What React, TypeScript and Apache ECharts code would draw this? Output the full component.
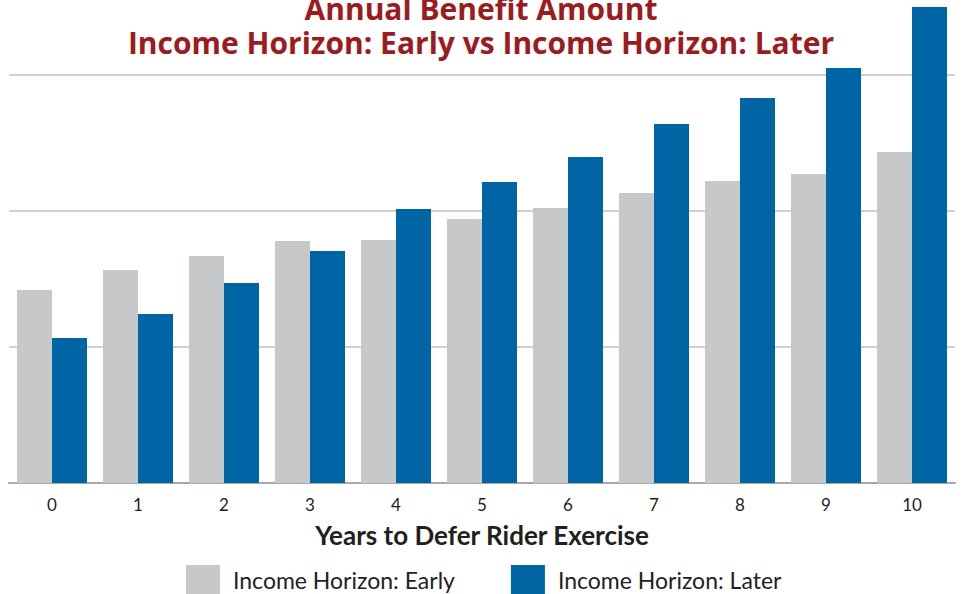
import React, { useEffect, useRef } from "react";
import * as echarts from "echarts";

const categories = ["0", "1", "2", "3", "4", "5", "6", "7", "8", "9", "10"];
const earlyValues = [1420, 1566, 1669, 1779, 1787, 1941, 2022, 2132, 2221, 2272, 2434];
const laterValues = [1066, 1243, 1471, 1706, 2015, 2213, 2397, 2640, 2831, 3051, 3500];
const seriesNames = ["Income Horizon: Early", "Income Horizon: Later"];
const titleText = "Annual Benefit Amount\nIncome Horizon: Early vs Income Horizon: Later";
const xAxisName = "Years to Defer Rider Exercise";

export default function App() {
  const ref = useRef<HTMLDivElement>(null);
  useEffect(() => {
    if (!ref.current) return;
    const chart = echarts.init(ref.current, null, { renderer: "svg" });
    chart.setOption({
      animation: false,
      title: {
        text: titleText,
        left: "center",
        top: -14,
        textStyle: {
          fontFamily: "Open Sans",
          fontWeight: "bold",
          fontSize: 30,
          lineHeight: 34,
          color: "#9b1c20",
        },
      },
      grid: { left: 9, right: 7, top: 7, bottom: 111, containLabel: false },
      legend: {
        left: 186,
        top: 565,
        padding: 0,
        itemWidth: 34,
        itemHeight: 29,
        itemGap: 56,
        icon: "rect",
        textStyle: {
          fontFamily: "Lato",
          fontSize: 23,
          lineHeight: 24,
          color: "#231f20",
          padding: [0, 0, 0, 8],
        },
        data: seriesNames,
      },
      xAxis: {
        type: "category",
        data: categories,
        axisLine: { lineStyle: { color: "#a7a9ac", width: 2 } },
        axisTick: { show: false },
        axisLabel: { fontFamily: "Lato", fontSize: 17, color: "#231f20", margin: 13 },
        name: xAxisName,
        nameLocation: "middle",
        nameGap: 39,
        nameTextStyle: { fontFamily: "Lato", fontWeight: "bold", fontSize: 26, color: "#231f20" },
      },
      yAxis: {
        type: "value",
        min: 0,
        max: 3500,
        interval: 1000,
        axisLabel: { show: false },
        axisLine: { show: false },
        axisTick: { show: false },
        splitLine: { show: true, showMaxLine: false, lineStyle: { color: "#cfd0d2", width: 2 } },
      },
      series: [
        {
          name: seriesNames[0],
          type: "bar",
          data: earlyValues,
          itemStyle: { color: "#c7c8ca" },
          barGap: "0%",
          barCategoryGap: "18.6%",
        },
        {
          name: seriesNames[1],
          type: "bar",
          data: laterValues,
          itemStyle: { color: "#0065a4" },
          barGap: "0%",
          barCategoryGap: "18.6%",
        },
      ],
    });
    return () => chart.dispose();
  }, []);
  return <div ref={ref} style={{ width: 962, height: 594, position: "absolute", left: 0, top: 0 }} />;
}
